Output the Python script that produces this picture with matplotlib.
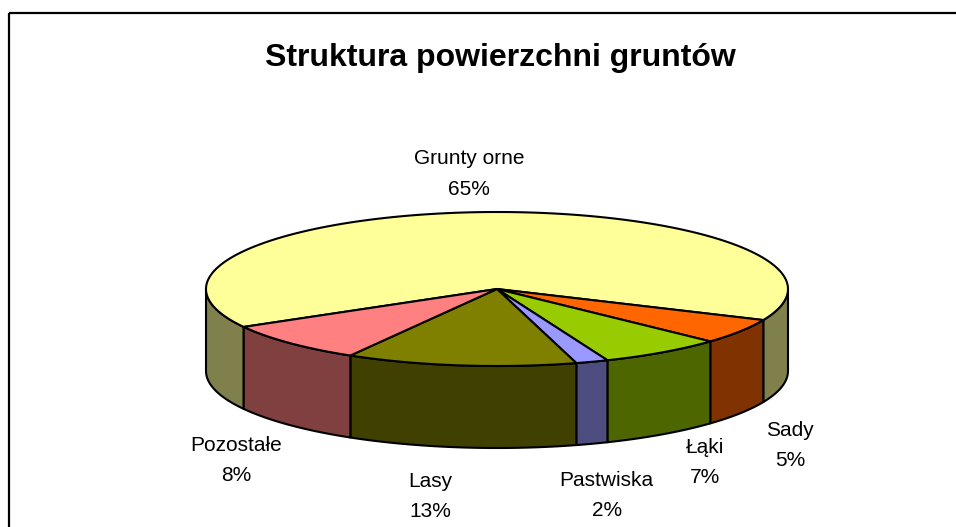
import numpy as np
import matplotlib
matplotlib.use("Agg")
import matplotlib.pyplot as plt
from matplotlib.patches import Polygon, Rectangle

plt.rcParams["font.family"] = ["Liberation Sans", "DejaVu Sans"]

TITLE = "Struktura powierzchni gruntów"
CATEGORIES = ["Grunty orne", "Sady", "Łąki", "Pastwiska", "Lasy", "Pozostałe"]
SHARES = [64.8, 5.3, 6.9, 1.8, 12.8, 8.4]   # percent

TOP_COLORS = ["#ffff99", "#ff6600", "#99cc00", "#9999ff", "#808000", "#ff8080"]
SIDE_COLORS = ["#80804d", "#803300", "#4d6600", "#4d4d80", "#404000", "#804040"]

# layout in pixels: the axes cover the whole figure, y grows downwards
W, H = 956, 527
CX, CY = 497, 289          # centre of the top ellipse
RX, RY = 291, 77           # ellipse radii
DEPTH = 82                 # thickness of the 3D disc
START_DEG = 209.5          # first slice starts here and runs clockwise
LABEL_NUDGE = [(-10, 8), (-11, 7), (1, -10), (-9, 8), (-21, 3), (-2, 3)]


def arc(a0, a1, n=240):
    t = np.radians(np.linspace(a0, a1, n))
    return np.column_stack([CX + RX * np.cos(t), CY - RY * np.sin(t)])


def front_parts(a_lo, a_hi):
    """Pieces of [a_lo, a_hi] lying on the visible (front) half of the disc."""
    parts = []
    for k in (-1, 0, 1, 2):
        lo = max(a_lo, -180 + 360 * k)
        hi = min(a_hi, 360 * k)
        if lo < hi:
            parts.append((lo, hi))
    return parts


def main():
    fig = plt.figure(figsize=(W / 100, H / 100), dpi=100)
    ax = fig.add_axes([0, 0, 1, 1])
    ax.set_xlim(0, W)
    ax.set_ylim(H, 0)
    ax.axis("off")

    # chart area frame (runs off the right and bottom edge)
    ax.add_patch(Rectangle((9, 13), W + 20, H + 20, facecolor="none",
                           edgecolor="black", linewidth=1.6, clip_on=False))

    ax.text(500, 66, TITLE, ha="center", va="baseline",
            fontsize=23, fontweight="bold")

    bounds = []
    cum = 0.0
    for v in SHARES:
        a_hi = START_DEG - cum * 3.6
        cum += v
        a_lo = START_DEG - cum * 3.6
        bounds.append((a_lo, a_hi))

    edge = dict(edgecolor="black", linewidth=1.5, joinstyle="round")

    # side walls first
    for (a_lo, a_hi), col in zip(bounds, SIDE_COLORS):
        for lo, hi in front_parts(a_lo, a_hi):
            top = arc(hi, lo)
            bottom = top[::-1] + np.array([0, DEPTH])
            ax.add_patch(Polygon(np.vstack([top, bottom]), closed=True,
                                 facecolor=col, **edge))

    # top faces
    for (a_lo, a_hi), col in zip(bounds, TOP_COLORS):
        pts = np.vstack([[CX, CY], arc(a_hi, a_lo)])
        ax.add_patch(Polygon(pts, closed=True, facecolor=col, **edge))

    # data labels
    for name, v, (a_lo, a_hi), (dx, dy) in zip(CATEGORIES, SHARES, bounds,
                                                LABEL_NUDGE):
        mid = np.radians((a_lo + a_hi) / 2)
        lx = CX + 1.25 * RX * np.cos(mid)
        ly = CY - 1.6 * RY * np.sin(mid)
        if np.sin(mid) < 0:
            ly += DEPTH
        ax.text(lx + dx, ly + dy, f"{name}\n{round(v):.0f}%",
                ha="center", va="center", multialignment="center",
                fontsize=15, linespacing=1.74)

    fig.savefig("out.png", dpi=100, facecolor="white")
    plt.close(fig)


if __name__ == "__main__":
    main()
